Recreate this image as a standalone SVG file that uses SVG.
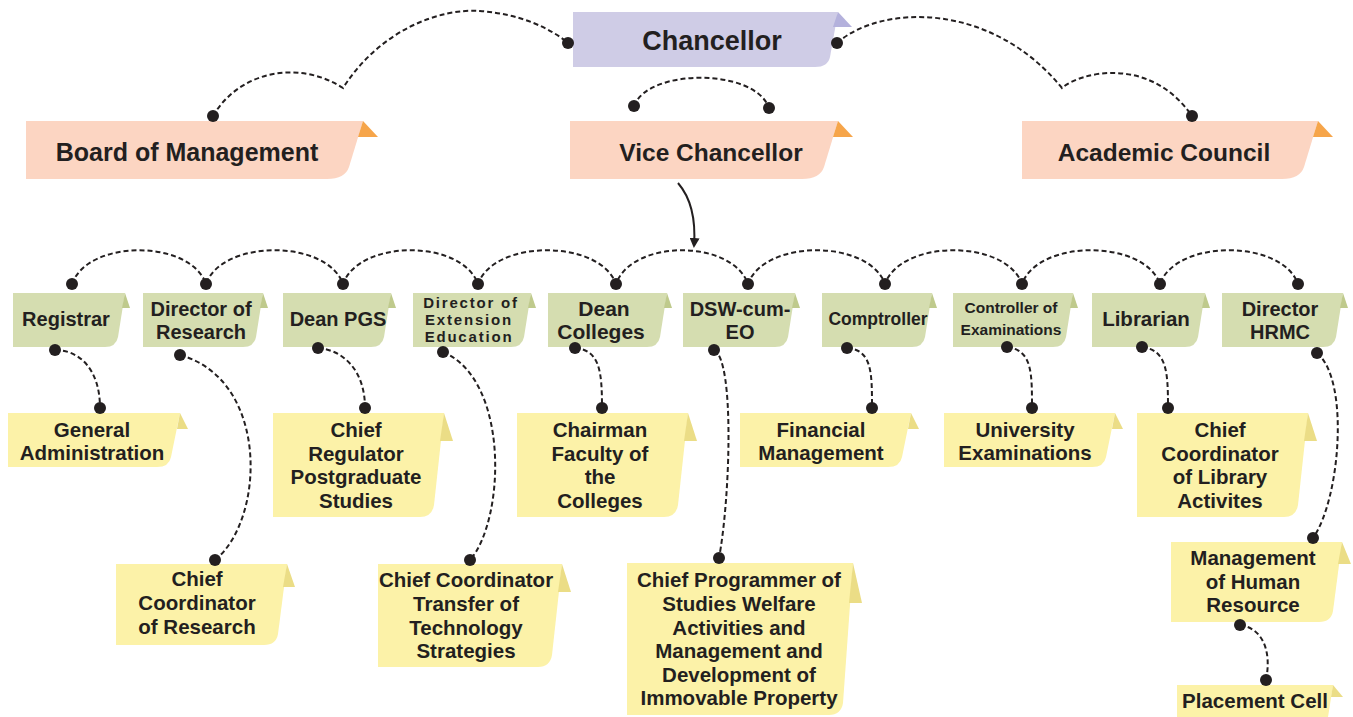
<svg xmlns="http://www.w3.org/2000/svg" width="1353" height="717" viewBox="0 0 1353 717">
<style>
text{font-family:"Liberation Sans",Arial,sans-serif;font-weight:bold;fill:#231f20;text-anchor:middle}
.pk{fill:#fcd5c2}.pkt{fill:#f6a54a}
.lv{fill:#cfcce6}.lvt{fill:#b4b1dc}
.gr{fill:#d5ddb0}.grt{fill:#bfca8c}
.yl{fill:#fcf2a8}.ylt{fill:#ebdd86}
.dash{fill:none;stroke:#231f20;stroke-width:2;stroke-dasharray:5 3}
.dot{fill:#231f20}
.big{font-size:25px}.g{font-size:20px}.y{font-size:20.5px}
.dee{font-size:15px;letter-spacing:1.8px}
</style>
<defs>
<marker id="ah" viewBox="0 0 10 10" refX="8" refY="5" markerWidth="5" markerHeight="5" orient="auto-start-reverse"><path d="M0,0 L10,5 L0,10 z" fill="#231f20"/></marker>
</defs>
<rect width="1353" height="717" fill="#ffffff"/>

<g id="connectors">
<path class="dash" d="M213,116 C240,70 300,60 343,88 C380,30 440,8 480,11 C520,14 550,28 568,43"/>
<path class="dash" d="M837,43 C880,5 990,0 1062,88 C1080,72 1150,55 1192,116"/>
<path class="dash" d="M634,106 C648,68 755,68 769,108"/>
<path d="M678,183 Q697,205 694,246" fill="none" stroke="#231f20" stroke-width="2" marker-end="url(#ah)"/>
<path class="dash" d="M72,284 C88,239 190,239 206,284 C222,239 327,239 343,284 C359,239 462,239 478,284 C494,239 600,239 616,284 C632,239 732,239 748,284 C764,239 869,239 885,284 C901,239 1006,239 1022,284 C1038,239 1144,239 1160,284 C1176,239 1282,239 1298,284"/>
<path class="dash" d="M55,350 C80,350 100,370 100,408"/>
<path class="dash" d="M180,355 C270,380 265,520 215,560"/>
<path class="dash" d="M318,348 C343,350 365,370 365,408"/>
<path class="dash" d="M443,352 C510,380 505,520 470,560"/>
<path class="dash" d="M575,348 C600,350 602,372 602,408"/>
<path class="dash" d="M714,350 C735,360 730,500 719,558"/>
<path class="dash" d="M847,348 C872,350 872,372 872,408"/>
<path class="dash" d="M1007,347 C1032,350 1032,372 1032,408"/>
<path class="dash" d="M1142,347 C1167,350 1168,372 1168,408"/>
<path class="dash" d="M1317,353 C1350,380 1340,500 1313,538"/>
<path class="dash" d="M1240,625 C1262,628 1272,650 1266,680"/>
</g>

<g id="chancellor">
<path class="lv" d="M573,12 H838 L830,57 Q828,67 815,67 H573 Z"/>
<path class="lvt" d="M838,12 L852,27 L833,27 Z"/>
<text x="712" y="50" style="font-size:27px">Chancellor</text>
</g>
<g id="board">
<path class="pk" d="M26,121 H363 L349,167 Q345,179 327,179 H26 Z"/>
<path class="pkt" d="M363,121 L378,137 L358,137 Z"/>
<text class="big" x="187" y="161">Board of Management</text>
</g>
<g id="vicechancellor">
<path class="pk" d="M570,121 H838 L824,167 Q820,179 802,179 H570 Z"/>
<path class="pkt" d="M838,121 L853,137 L833,137 Z"/>
<text x="711" y="161" style="font-size:24.5px">Vice Chancellor</text>
</g>
<g id="academiccouncil">
<path class="pk" d="M1022,121 H1318 L1304,167 Q1300,179 1282,179 H1022 Z"/>
<path class="pkt" d="M1318,121 L1333,137 L1313,137 Z"/>
<text x="1164" y="161" style="font-size:24.5px">Academic Council</text>
</g>

<g id="registrar">
<path class="gr" d="M13,293 H125 L118,337 Q116,347 105,347 H13 Z"/>
<path class="grt" d="M125,293 L130,308 L122,308 Z"/>
<text class="g" x="66" y="326">Registrar</text>
</g>
<g id="director-research">
<path class="gr" d="M143,293 H263 L256,337 Q254,347 243,347 H143 Z"/>
<path class="grt" d="M263,293 L268,308 L260,308 Z"/>
<text class="g" x="201" y="316">Director of</text>
<text class="g" x="201" y="339">Research</text>
</g>
<g id="dean-pgs">
<path class="gr" d="M283,293 H391 L384,337 Q382,347 371,347 H283 Z"/>
<path class="grt" d="M391,293 L396,308 L388,308 Z"/>
<text class="g" x="338" y="326">Dean PGS</text>
</g>
<g id="director-extension">
<path class="gr" d="M413,293 H531 L524,337 Q522,347 511,347 H413 Z"/>
<path class="grt" d="M531,293 L536,308 L528,308 Z"/>
<text class="dee" x="471" y="308">Director of</text>
<text class="dee" x="469" y="325">Extension</text>
<text class="dee" x="469" y="342">Education</text>
</g>
<g id="dean-colleges">
<path class="gr" d="M548,293 H667 L660,337 Q658,347 647,347 H548 Z"/>
<path class="grt" d="M667,293 L672,308 L664,308 Z"/>
<text x="604" y="316" style="font-size:21px">Dean</text>
<text x="601" y="339" style="font-size:21px">Colleges</text>
</g>
<g id="dsw">
<path class="gr" d="M683,293 H795 L788,337 Q786,347 775,347 H683 Z"/>
<path class="grt" d="M795,293 L800,308 L792,308 Z"/>
<text class="g" x="740" y="316">DSW-cum-</text>
<text class="g" x="740" y="339">EO</text>
</g>
<g id="comptroller">
<path class="gr" d="M822,293 H932 L925,337 Q923,347 912,347 H822 Z"/>
<path class="grt" d="M932,293 L937,308 L929,308 Z"/>
<text x="878" y="325" style="font-size:17.5px">Comptroller</text>
</g>
<g id="controller-exams">
<path class="gr" d="M953,293 H1073 L1066,337 Q1064,347 1053,347 H953 Z"/>
<path class="grt" d="M1073,293 L1078,308 L1070,308 Z"/>
<text x="1011" y="313" style="font-size:15.5px">Controller of</text>
<text x="1011" y="335" style="font-size:15.5px">Examinations</text>
</g>
<g id="librarian">
<path class="gr" d="M1092,293 H1205 L1198,337 Q1196,347 1185,347 H1092 Z"/>
<path class="grt" d="M1205,293 L1210,308 L1202,308 Z"/>
<text x="1146" y="326" style="font-size:20.5px">Librarian</text>
</g>
<g id="director-hrmc">
<path class="gr" d="M1222,293 H1343 L1336,337 Q1334,347 1323,347 H1222 Z"/>
<path class="grt" d="M1343,293 L1348,308 L1340,308 Z"/>
<text class="g" x="1280" y="316">Director</text>
<text class="g" x="1280" y="339">HRMC</text>
</g>

<g id="general-administration">
<path class="yl" d="M8,413 H180 L171,457 Q169,467 157,467 H8 Z"/>
<path class="ylt" d="M180,413 L188,429 L177,429 Z"/>
<text class="y" x="92" y="437">General</text>
<text class="y" x="92" y="460">Administration</text>
</g>
<g id="chief-regulator">
<path class="yl" d="M273,413 H444 L434,505 Q432,517 420,517 H273 Z"/>
<path class="ylt" d="M444,413 L453,441 L440,441 Z"/>
<text class="y" x="356" y="437">Chief</text>
<text class="y" x="356" y="460.5">Regulator</text>
<text class="y" x="356" y="484">Postgraduate</text>
<text class="y" x="356" y="507.5">Studies</text>
</g>
<g id="chairman-faculty">
<path class="yl" d="M517,413 H688 L678,505 Q676,517 664,517 H517 Z"/>
<path class="ylt" d="M688,413 L697,441 L684,441 Z"/>
<text class="y" x="600" y="437">Chairman</text>
<text class="y" x="600" y="460.5">Faculty of</text>
<text class="y" x="600" y="484">the</text>
<text class="y" x="600" y="507.5">Colleges</text>
</g>
<g id="financial-management">
<path class="yl" d="M740,413 H911 L902,457 Q900,467 888,467 H740 Z"/>
<path class="ylt" d="M911,413 L919,429 L908,429 Z"/>
<text class="y" x="821" y="437">Financial</text>
<text class="y" x="821" y="460">Management</text>
</g>
<g id="university-examinations">
<path class="yl" d="M944,413 H1115 L1106,457 Q1104,467 1092,467 H944 Z"/>
<path class="ylt" d="M1115,413 L1123,429 L1112,429 Z"/>
<text class="y" x="1025" y="437">University</text>
<text class="y" x="1025" y="460">Examinations</text>
</g>
<g id="chief-library">
<path class="yl" d="M1137,413 H1308 L1298,505 Q1296,517 1284,517 H1137 Z"/>
<path class="ylt" d="M1308,413 L1317,441 L1304,441 Z"/>
<text class="y" x="1220" y="437">Chief</text>
<text class="y" x="1220" y="460.5">Coordinator</text>
<text class="y" x="1220" y="484">of Library</text>
<text class="y" x="1220" y="507.5">Activites</text>
</g>
<g id="chief-research">
<path class="yl" d="M116,564 H287 L278,634 Q276,645 264,645 H116 Z"/>
<path class="ylt" d="M287,564 L295,587 L283,587 Z"/>
<text class="y" x="197" y="586">Chief</text>
<text class="y" x="197" y="610">Coordinator</text>
<text class="y" x="197" y="634">of Research</text>
</g>
<g id="chief-transfer">
<path class="yl" d="M378,564 H562 L552,655 Q550,667 538,667 H378 Z"/>
<path class="ylt" d="M562,564 L571,592 L558,592 Z"/>
<text class="y" x="466" y="587">Chief Coordinator</text>
<text class="y" x="466" y="611">Transfer of</text>
<text class="y" x="466" y="634.5">Technology</text>
<text class="y" x="466" y="658">Strategies</text>
</g>
<g id="chief-programmer">
<path class="yl" d="M627,563 H853 L843,703 Q841,715 829,715 H627 Z"/>
<path class="ylt" d="M853,563 L862,603 L849,603 Z"/>
<text class="y" x="739" y="587">Chief Programmer of</text>
<text class="y" x="739" y="611">Studies Welfare</text>
<text class="y" x="739" y="634.5">Activities and</text>
<text class="y" x="739" y="658">Management and</text>
<text class="y" x="739" y="681.5">Development of</text>
<text class="y" x="739" y="705">Immovable Property</text>
</g>
<g id="management-hr">
<path class="yl" d="M1171,542 H1342 L1333,611 Q1331,622 1319,622 H1171 Z"/>
<path class="ylt" d="M1342,542 L1351,564 L1338,564 Z"/>
<text class="y" x="1253" y="565">Management</text>
<text class="y" x="1253" y="588.5">of Human</text>
<text class="y" x="1253" y="612">Resource</text>
</g>
<g id="placement-cell">
<path class="yl" d="M1177,685 H1333 L1328,717 H1177 Z"/>
<path class="ylt" d="M1333,685 L1343,697 L1331,697 Z"/>
<text class="y" x="1255" y="708">Placement Cell</text>
</g>

<g id="dots">
<circle class="dot" cx="213" cy="116" r="6"/><circle class="dot" cx="568" cy="43" r="6"/>
<circle class="dot" cx="837" cy="43" r="6"/><circle class="dot" cx="1192" cy="116" r="6"/>
<circle class="dot" cx="634" cy="106" r="6"/><circle class="dot" cx="769" cy="108" r="6"/>
<circle class="dot" cx="72" cy="284" r="6"/><circle class="dot" cx="206" cy="284" r="6"/>
<circle class="dot" cx="343" cy="284" r="6"/><circle class="dot" cx="478" cy="284" r="6"/>
<circle class="dot" cx="616" cy="284" r="6"/><circle class="dot" cx="748" cy="284" r="6"/>
<circle class="dot" cx="885" cy="284" r="6"/><circle class="dot" cx="1022" cy="284" r="6"/>
<circle class="dot" cx="1160" cy="284" r="6"/><circle class="dot" cx="1298" cy="284" r="6"/>
<circle class="dot" cx="55" cy="350" r="6"/><circle class="dot" cx="100" cy="408" r="6"/>
<circle class="dot" cx="180" cy="355" r="6"/><circle class="dot" cx="215" cy="560" r="6"/>
<circle class="dot" cx="318" cy="348" r="6"/><circle class="dot" cx="365" cy="408" r="6"/>
<circle class="dot" cx="443" cy="352" r="6"/><circle class="dot" cx="470" cy="560" r="6"/>
<circle class="dot" cx="575" cy="348" r="6"/><circle class="dot" cx="602" cy="408" r="6"/>
<circle class="dot" cx="714" cy="350" r="6"/><circle class="dot" cx="719" cy="558" r="6"/>
<circle class="dot" cx="847" cy="348" r="6"/><circle class="dot" cx="872" cy="408" r="6"/>
<circle class="dot" cx="1007" cy="347" r="6"/><circle class="dot" cx="1032" cy="408" r="6"/>
<circle class="dot" cx="1142" cy="347" r="6"/><circle class="dot" cx="1168" cy="408" r="6"/>
<circle class="dot" cx="1317" cy="353" r="6"/><circle class="dot" cx="1313" cy="538" r="6"/>
<circle class="dot" cx="1240" cy="625" r="6"/><circle class="dot" cx="1266" cy="680" r="6"/>
</g>
</svg>
